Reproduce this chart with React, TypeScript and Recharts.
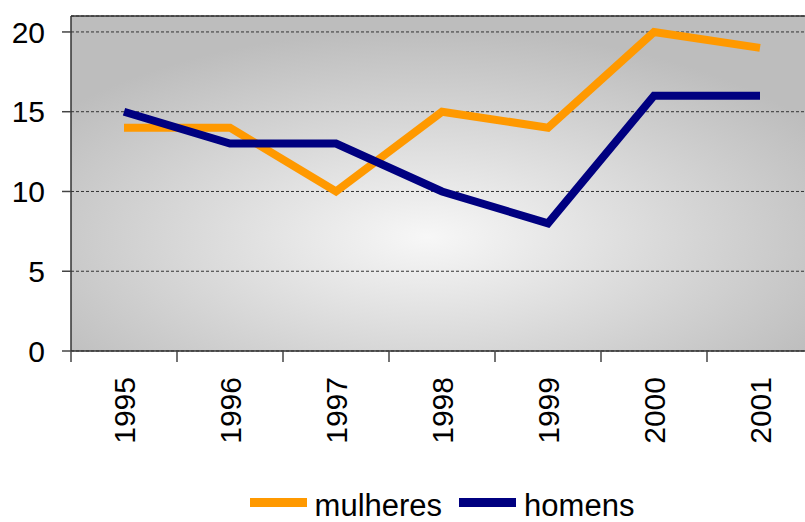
import React from "react";
import { LineChart, Line, XAxis, YAxis, CartesianGrid, Legend, ReferenceLine } from "recharts";

const YEARS = ["1995", "1996", "1997", "1998", "1999", "2000", "2001"];
const MULHERES = [14, 14, 10, 15, 14, 20, 19];
const HOMENS = [15, 13, 13, 10, 8, 16, 16];
const Y_TICKS = [0, 5, 10, 15, 20];
const SERIES_ORDER = ["mulheres", "homens"];

const FONT = "'Liberation Sans', Arial, sans-serif";
const ORANGE = "#ff9900";
const NAVY = "#000080";

const data = YEARS.map((year, i) => ({
  year,
  mulheres: MULHERES[i],
  homens: HOMENS[i],
}));

function YearTick(props: any) {
  const { x, y, payload, width, visibleTicksCount } = props;
  const half = payload?.offset ?? width / (visibleTicksCount || YEARS.length) / 2;
  const bx = x - half;
  return (
    <g>
      <line x1={bx} x2={bx} y1={y - 26} y2={y - 15} stroke="#444" strokeWidth={1.5} />
      <text
        x={x}
        y={y}
        dy="0.36em"
        transform={`rotate(-90, ${x}, ${y})`}
        textAnchor="end"
        fontSize={30}
        fontFamily={FONT}
        fill="#000"
      >
        {payload.value}
      </text>
    </g>
  );
}

function LegendContent(props: any) {
  const items = [...(props.payload || [])].sort(
    (a: any, b: any) => SERIES_ORDER.indexOf(a.value) - SERIES_ORDER.indexOf(b.value)
  );
  return (
    <div style={{ display: "flex", justifyContent: "center", alignItems: "center", height: 36 }}>
      {items.map((it: any, i: number) => (
        <div key={i} style={{ display: "flex", alignItems: "center", marginRight: i === 0 ? 17 : 0 }}>
          <div style={{ width: 57, height: 9, background: it.color, position: "relative", top: -4 }} />
          <span style={{ marginLeft: 8, fontSize: 31, lineHeight: "36px", fontFamily: FONT, color: "#000" }}>
            {it.value}
          </span>
        </div>
      ))}
    </div>
  );
}

export default function App() {
  return (
    <div style={{ position: "absolute", left: 0, top: 0, width: 805, height: 522, overflow: "hidden", background: "#fff" }}>
      <LineChart width={813} height={522} data={data} margin={{ top: 16, right: 0, bottom: 0, left: 0 }}>
        <defs>
          <radialGradient id="plotBg" cx="0.48" cy="0.66" r="0.62">
            <stop offset="0%" stopColor="#f7f7f7" />
            <stop offset="100%" stopColor="#bdbdbd" />
          </radialGradient>
        </defs>
        <CartesianGrid
          vertical={false}
          stroke="#333"
          strokeDasharray="3 2"
          fill="url(#plotBg)"
          fillOpacity={1}
        />
        <ReferenceLine y={21} stroke="#333" strokeWidth={1.5} />
        <XAxis
          dataKey="year"
          scale="band"
          height={171}
          tickSize={11}
          tickMargin={15}
          tickLine={false}
          axisLine={{ stroke: "#333", strokeWidth: 1.5 }}
          tick={<YearTick />}
          interval={0}
        />
        <YAxis
          width={71}
          domain={[0, 21]}
          ticks={Y_TICKS}
          tickSize={9}
          tickMargin={17}
          axisLine={{ stroke: "#333", strokeWidth: 1.5 }}
          tickLine={{ stroke: "#444", strokeWidth: 1.5 }}
          tick={{ fontSize: 30, fontFamily: FONT, fill: "#000" }}
        />
        <Legend
          layout="horizontal"
          verticalAlign="middle"
          align="center"
          content={<LegendContent />}
          wrapperStyle={{ top: 488, left: 71, width: 742, height: 36 }}
        />
        <Line
          type="linear"
          dataKey="mulheres"
          name="mulheres"
          stroke={ORANGE}
          strokeWidth={8}
          dot={false}
          activeDot={false}
          isAnimationActive={false}
        />
        <Line
          type="linear"
          dataKey="homens"
          name="homens"
          stroke={NAVY}
          strokeWidth={8}
          dot={false}
          activeDot={false}
          isAnimationActive={false}
        />
      </LineChart>
    </div>
  );
}
